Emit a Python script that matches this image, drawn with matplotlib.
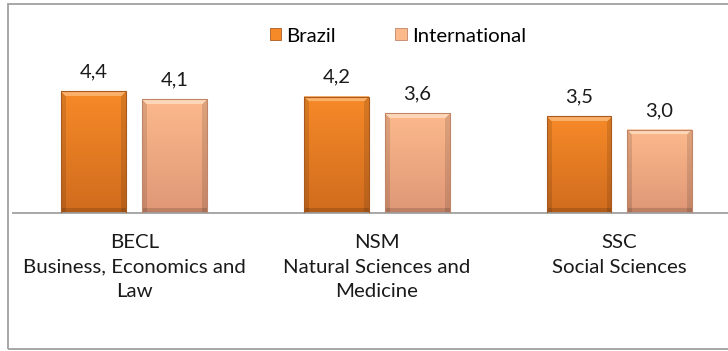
import numpy as np
import matplotlib.pyplot as plt
from matplotlib.patches import Rectangle, Patch
from matplotlib.colors import to_rgb

areas = ["BECL\nBusiness, Economics and\nLaw",
         "NSM\nNatural Sciences and\nMedicine",
         "SSC\nSocial Sciences"]
brazil = [4.4, 4.2, 3.5]
international = [4.1, 3.6, 3.0]
series_names = ["Brazil", "International"]

plt.rcParams['font.family'] = ['Lato', 'DejaVu Sans']

W, H = 728, 351
fig = plt.figure(figsize=(W / 100, H / 100), dpi=100)

# frame around the chart area (right side runs off the page)
frame = Rectangle((8 / W, 1 - 349 / H), 740 / W, 345 / H, transform=fig.transFigure,
                  fill=False, edgecolor='#a0a0a0', linewidth=1.3)
fig.add_artist(frame)

# caption line above the frame, only its descenders reach the page
fig.text(8 / W, 1 + 4.5 / H, "Figure 3: Mean rating of the competences in each area of study",
         family='Liberation Serif', fontsize=16, va='baseline', ha='left')

ax = fig.add_axes([13 / W, 1 - 213 / H, 727.5 / W, 138.5 / H])
ax.set_xlim(-0.5, 2.5)
ax.set_ylim(0, 5)
for s in ['left', 'right', 'top']:
    ax.spines[s].set_visible(False)
ax.spines['bottom'].set_color('#a0a0a0')
ax.spines['bottom'].set_linewidth(1.3)
ax.set_yticks([])
ax.set_xticks(range(len(areas)))
ax.set_xticklabels(areas, fontsize=14.7, linespacing=1.55, color='#1a1a1a')
ax.tick_params(axis='x', length=0, pad=15)

fig.canvas.draw()


def bevel_bar(x, h, w, top, bottom, edge, light):
    # pixel size of the bar so the bevel stays a fixed width
    (x0, y0), (x1, y1) = ax.transData.transform([(x - w / 2, 0), (x + w / 2, h)])
    nx, ny = max(int(round(x1 - x0)), 2), max(int(round(y1 - y0)), 2)
    t = np.linspace(0, 1, ny)[:, None, None]
    top, bottom, edge, light = map(lambda c: np.array(to_rgb(c)), (top, bottom, edge, light))
    img = (1 - t) * top + t * bottom
    img = np.repeat(img, nx, axis=1)
    b = 5
    yy, xx = np.mgrid[0:ny, 0:nx]
    side = (xx < b) | (xx >= nx - b)
    img[side] = img[side] * 0.88
    img[yy >= ny - b] = img[yy >= ny - b] * 0.85
    img[(yy < b) & ~((xx < yy) | (nx - 1 - xx < yy))] = light
    ax.imshow(img, extent=[x - w / 2, x + w / 2, 0, h], aspect='auto',
              interpolation='bilinear', zorder=2)
    ax.add_patch(Rectangle((x - w / 2, 0), w, h, fill=False, edgecolor=edge,
                           linewidth=0.8, zorder=3))


bar_w = 0.268
offset = 0.166
styles = [('#f78a28', '#d06c1e', '#a85a1e', '#fbb06a'),
          ('#fcb98c', '#df9776', '#c08468', '#fdd6b8')]
for vals, sign, st in [(brazil, -1, styles[0]), (international, 1, styles[1])]:
    for i, v in enumerate(vals):
        bevel_bar(i + sign * offset, v, bar_w, *st)
        ax.text(i + sign * offset, v + 0.5, f"{v:.1f}".replace('.', ','),
                ha='center', va='baseline', fontsize=14.5, color='#1a1a1a')

ax.set_xlim(-0.5, 2.5)
ax.set_ylim(0, 5)

handles = [Patch(facecolor=styles[0][0], edgecolor=styles[0][2], linewidth=0.6),
           Patch(facecolor=styles[1][0], edgecolor=styles[1][2], linewidth=0.6)]
fig.legend(handles, series_names, loc='center', bbox_to_anchor=(398 / W, 1 - 36 / H),
           ncol=2, frameon=False, fontsize=14.7, handlelength=0.55, handleheight=0.55,
           handletextpad=0.25, columnspacing=2.9)

fig.savefig("out.png", dpi=100)
